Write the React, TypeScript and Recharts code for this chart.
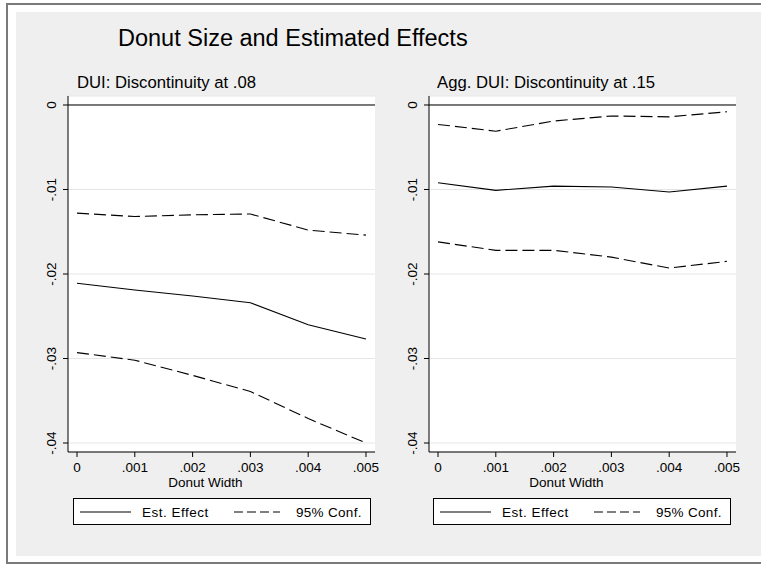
import React from 'react';
import { LineChart, Line, XAxis, YAxis, CartesianGrid, ReferenceLine, Label } from 'recharts';

const donutWidths = [0, 0.001, 0.002, 0.003, 0.004, 0.005];
const xTicks = [0, 0.001, 0.002, 0.003, 0.004, 0.005];
const yTicks = [0, -0.01, -0.02, -0.03, -0.04];

const duiEffect = [-0.0211, -0.0219, -0.0226, -0.0234, -0.026, -0.0277];
const duiUpper = [-0.0128, -0.0132, -0.013, -0.0129, -0.0148, -0.0154];
const duiLower = [-0.0293, -0.0302, -0.032, -0.0339, -0.0371, -0.04];

const aggEffect = [-0.0092, -0.0101, -0.0096, -0.0097, -0.0103, -0.0096];
const aggUpper = [-0.0023, -0.0031, -0.0019, -0.0013, -0.0014, -0.0008];
const aggLower = [-0.0162, -0.0172, -0.0172, -0.018, -0.0193, -0.0185];

const FONT = 'Liberation Sans, Arial, sans-serif';

const duiData = donutWidths.map((w, i) => ({ w, effect: duiEffect[i], upper: duiUpper[i], lower: duiLower[i] }));
const aggData = donutWidths.map((w, i) => ({ w, effect: aggEffect[i], upper: aggUpper[i], lower: aggLower[i] }));

const fmtX = (v: number) => (v === 0 ? '0' : v.toFixed(3).replace('0.', '.'));
const fmtY = (v: number) => (Math.abs(v) < 1e-9 ? '0' : v.toFixed(2).replace('0.', '.'));

const YTick = (props: any) => {
  const { x, y, payload } = props;
  const bx = x - 7;
  return (
    <text x={bx} y={y} transform={`rotate(-90 ${bx} ${y})`} textAnchor="middle" fontSize={13.5} fill="#000" fontFamily={FONT}>
      {fmtY(payload.value)}
    </text>
  );
};

const AxisTitle = (p: any) => {
  const vb = p.viewBox || { x: 0, y: 0, width: 0 };
  return (
    <text x={vb.x + vb.width / 2 - 16} y={vb.y + 35} textAnchor="middle" fontSize={13.5} fill="#000" fontFamily={FONT}>
      Donut Width
    </text>
  );
};

function Panel({ data, left }: { data: any[]; left: number }) {
  return (
    <div style={{ position: 'absolute', left, top: 0, width: 380, height: 500 }}>
      <LineChart width={380} height={500} data={data} margin={{ top: 96, right: 5, left: 8, bottom: 8 }}>
        <CartesianGrid vertical={false} stroke="#e6e6e6" fill="#ffffff" />
        <XAxis
          dataKey="w"
          type="number"
          domain={[-0.000156, 0.005156]}
          allowDataOverflow
          ticks={xTicks}
          interval={0}
          tickFormatter={fmtX}
          height={40}
          tickSize={5}
          tickMargin={5}
          stroke="#000"
          tick={{ fill: '#000', fontSize: 13.5, fontFamily: FONT }}
        >
          <Label content={AxisTitle} />
        </XAxis>
        <YAxis
          type="number"
          domain={[-0.041065, 0.001065]}
          allowDataOverflow
          ticks={yTicks}
          interval={0}
          width={60}
          tickSize={5}
          tickMargin={0}
          stroke="#000"
          tick={<YTick />}
        />
        <ReferenceLine y={0} stroke="#000" strokeWidth={1} />
        <Line type="linear" dataKey="upper" stroke="#000" strokeWidth={1.1} strokeDasharray="12 5" dot={false} isAnimationActive={false} />
        <Line type="linear" dataKey="effect" stroke="#000" strokeWidth={1.1} dot={false} isAnimationActive={false} />
        <Line type="linear" dataKey="lower" stroke="#000" strokeWidth={1.1} strokeDasharray="12 5" dot={false} isAnimationActive={false} />
      </LineChart>
    </div>
  );
}

function LegendBox({ left }: { left: number }) {
  return (
    <svg style={{ position: 'absolute', left, top: 498 }} width={299} height={28}>
      <rect x={0.5} y={0.5} width={297} height={26} fill="#fff" stroke="#000" strokeWidth={1} />
      <line x1={7} x2={58} y1={14} y2={14} stroke="#000" strokeWidth={1.1} />
      <text x={69} y={18.5} fontSize={13.5} fill="#000" fontFamily={FONT} letterSpacing={0.5}>Est. Effect</text>
      <line x1={161} x2={207} y1={14} y2={14} stroke="#000" strokeWidth={1.1} strokeDasharray="9 4" />
      <text x={223} y={18.5} fontSize={13.5} fill="#000" fontFamily={FONT} letterSpacing={0.3}>95% Conf.</text>
    </svg>
  );
}

export default function App() {
  return (
    <div style={{ position: 'absolute', left: 0, top: 0, width: 761, height: 565, background: '#fff', fontFamily: FONT, overflow: 'hidden' }}>
      <svg style={{ position: 'absolute', left: 0, top: 0 }} width={761} height={565}>
        <rect x={7} y={4} width={800} height={559} fill="#fff" stroke="#7a7a7a" strokeWidth={2} />
        <rect x={16} y={12} width={800} height={544} fill="#efefef" />
        <text x={118} y={46} fontSize={23.5} fill="#000" fontFamily={FONT}>Donut Size and Estimated Effects</text>
        <text x={77} y={88} fontSize={16.7} fill="#000" fontFamily={FONT}>DUI: Discontinuity at .08</text>
        <text x={437} y={88} fontSize={16.7} fill="#000" fontFamily={FONT}>Agg. DUI: Discontinuity at .15</text>
      </svg>
      <Panel data={duiData} left={0} />
      <Panel data={aggData} left={361} />
      <LegendBox left={73} />
      <LegendBox left={433} />
    </div>
  );
}
